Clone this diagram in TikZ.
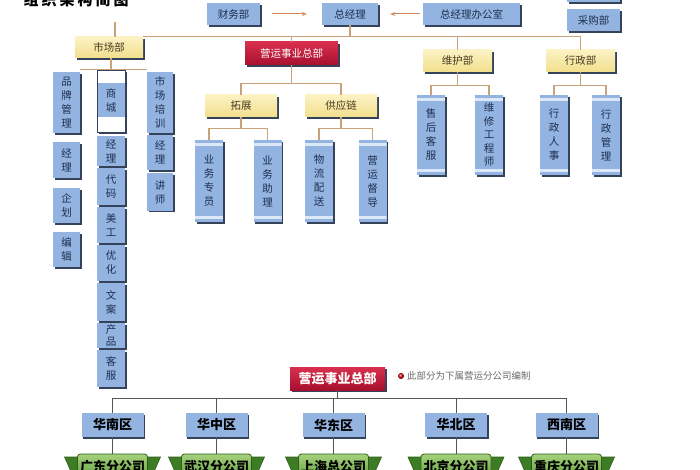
\documentclass[tikz,border=0pt]{standalone}
\usepackage{fontspec}
\setmainfont{Noto Sans CJK SC}
\usetikzlibrary{shadows,calc,arrows.meta}
\definecolor{bluef}{HTML}{93B4E0}
\definecolor{shade}{HTML}{34425A}
\definecolor{navy}{HTML}{1E2E4E}
\definecolor{bandc}{HTML}{DCE8F6}
\definecolor{yelt}{HTML}{FCF3C4}
\definecolor{yelb}{HTML}{F2DE8C}
\definecolor{yeltext}{HTML}{4A3A20}
\definecolor{redt}{HTML}{D8304E}
\definecolor{redb}{HTML}{A80F2E}
\definecolor{tanc}{HTML}{C9A27A}
\definecolor{arrc}{HTML}{D08A5A}
\definecolor{dgray}{HTML}{555555}
\definecolor{grt}{HTML}{A6D27C}
\definecolor{grb}{HTML}{5E9B3A}
\definecolor{grd}{HTML}{2E5E1C}
\definecolor{wingc}{HTML}{3E7B25}
\definecolor{notec}{HTML}{6A6A6A}
\tikzset{
  base/.style={inner sep=0pt, align=center, text=navy},
  shad/.style={general shadow={shadow xshift=1.6pt, shadow yshift=-1.6pt, fill=shade}},
  bbox/.style={base, fill=bluef, shad},
  vbox/.style={bbox, font=\fontsize{10.5}{14}\selectfont},
  hbox/.style={bbox, font=\fontsize{10.5}{12}\selectfont, minimum height=22pt},
  ybox/.style={base, top color=yelt, bottom color=yelb, shad, text=yeltext,
     font=\fontsize{10.5}{12}\selectfont, minimum height=22pt},
  rbox/.style={base, top color=redt, bottom color=redb, shad, text=white},
  scroll/.style={vbox, minimum width=28pt, path picture={
     \fill[bandc] ([yshift=-3pt]path picture bounding box.north west) rectangle ([yshift=-6pt]path picture bounding box.north east);
     \fill[bandc] ([yshift=3pt]path picture bounding box.south west) rectangle ([yshift=6pt]path picture bounding box.south east);}},
  conn/.style={draw=tanc, line width=1.1pt},
  dconn/.style={draw=dgray, line width=1pt},
  arr/.style={draw=arrc, line width=1pt, -{Stealth[length=5pt,width=4pt]}},
  region/.style={bbox, text=black, font=\fontsize{13}{15}\selectfont\bfseries, minimum width=62pt, minimum height=24pt},
  ribbon/.style={base, top color=grt, bottom color=grb, draw=grd, line width=0.8pt, rounded corners=3pt,
     text=black, font=\fontsize{13}{15}\selectfont\bfseries, minimum width=70pt, minimum height=26pt},
}
\newcommand\mywings[1]{%
  \fill[wingc, draw=grd, line width=0.6pt] (#1-48,457) -- (#1-33,457) -- (#1-33,475) -- (#1-40,475) -- cycle;
  \fill[wingc, draw=grd, line width=0.6pt] (#1+48,457) -- (#1+33,457) -- (#1+33,475) -- (#1+40,475) -- cycle;}
\begin{document}
\begin{tikzpicture}[x=1pt,y=-1pt]
\useasboundingbox (0,0) rectangle (700,470);
\clip (0,0) rectangle (700,470);
\fill[white] (0,0) rectangle (700,470);

% title
\node[font=\fontsize{15}{15}\selectfont\bfseries\addfontfeature{LetterSpace=20}, text=black, inner sep=0pt] (title) at (76,0) {组织架构简图};

% top row
\node[hbox, minimum width=53pt] (cw) at (233.5,14) {财务部};
\node[hbox, minimum width=56pt] (zjl) at (350,14) {总经理};
\node[hbox, minimum width=97pt] (zb) at (471.5,14) {总经理办公室};
\node[hbox, minimum width=53pt] (cgtop) at (593.5,-9) {};
\node[hbox, minimum width=53pt] (cg) at (593.5,20) {采购部};
\draw[arr, shorten <=12pt, shorten >=15pt] (cw.east) -- (zjl.west);
\draw[arr, shorten <=3pt, shorten >=12pt] (zb.west) -- (zjl.east);

% second row
\node[ybox, minimum width=68pt, minimum height=21pt] (scb) at (109,47.5) {市场部};
\node[rbox, minimum width=93pt, minimum height=23pt, font=\fontsize{10.5}{12}\selectfont] (yy1) at (291.5,53.5) {营运事业总部};
\node[ybox, minimum width=69pt] (whb) at (457.5,61) {维护部};
\node[ybox, minimum width=69pt] (xzb) at (580.5,61) {行政部};
\coordinate (sctop) at (115,22);
\draw[conn] (sctop) -- (sctop |- scb.north);
\draw[conn] (scb.north east) -| (xzb.north);
\draw[conn] (zjl.south) -- (zjl.south |- scb.north);
\draw[conn] (yy1.north) -- (yy1.north |- scb.north);
\draw[conn] (whb.north) -- (whb.north |- scb.north);

% market department columns
\node[vbox, minimum width=27pt, minimum height=61pt] (a1) at (66.5,102.5) {品\\牌\\管\\理};
\node[vbox, minimum width=27pt, minimum height=36pt] (a2) at (66.5,160) {经\\理};
\node[vbox, minimum width=27pt, minimum height=35pt] (a3) at (66.5,205.5) {企\\划};
\node[vbox, minimum width=27pt, minimum height=35pt] (a4) at (66.5,249.5) {编\\辑};

\node[vbox, fill=white, draw=shade, line width=0.8pt, minimum width=28pt, minimum height=62pt,
  path picture={\fill[bluef] ([yshift=-13pt]path picture bounding box.north west) rectangle ([yshift=15pt]path picture bounding box.south east);}]
  (b0) at (111,101) {商\\城};
\node[vbox, minimum width=28pt, minimum height=30pt] (b1) at (111,151) {经\\理};
\node[vbox, minimum width=28pt, minimum height=37pt] (b2) at (111,186.5) {代\\码};
\node[vbox, minimum width=28pt, minimum height=36pt] (b3) at (111,225) {美\\工};
\node[vbox, minimum width=28pt, minimum height=36pt] (b4) at (111,263) {优\\化};
\node[vbox, minimum width=28pt, minimum height=38pt] (b5) at (111,302) {文\\案};
\node[vbox, minimum width=28pt, minimum height=25pt, font=\fontsize{10.5}{12}\selectfont] (b6) at (111,335.5) {产\\品};
\node[vbox, minimum width=28pt, minimum height=37pt] (b7) at (111,368.5) {客\\服};

\node[vbox, minimum width=26pt, minimum height=61pt] (c0) at (160,102.5) {市\\场\\培\\训};
\node[vbox, minimum width=26pt, minimum height=35pt] (c1) at (160,152.5) {经\\理};
\node[vbox, minimum width=26pt, minimum height=37pt] (c2) at (160,192) {讲\\师};

\draw[conn] ([yshift=2pt]a1.north east) -- ([yshift=2pt]c0.north west);
\draw[conn] (b0.north) -- (b0.north |- scb.south);

% operations
\node[ybox, minimum width=72pt] (tz) at (241,106) {拓展};
\node[ybox, minimum width=72pt] (gyl) at (341,106) {供应链};
\draw[conn] (yy1.south) -- ++(0,18) coordinate (t0);
\draw[conn] (tz.north) |- (t0) -| (gyl.north);

\node[scroll, minimum height=82pt] (d1) at (209,181) {业\\务\\专\\员};
\node[scroll, minimum height=82pt] (d2) at (267.5,181) {业\\务\\助\\理};
\node[scroll, minimum height=82pt] (d3) at (319,181) {物\\流\\配\\送};
\node[scroll, minimum height=82pt] (d4) at (372.5,181) {营\\运\\督\\导};
\draw[conn] (tz.south) -- ++(0,11) coordinate (t1);
\draw[conn] (d1.north) |- (t1) -| (d2.north);
\draw[conn] (gyl.south) -- ++(0,11) coordinate (t2);
\draw[conn] (d3.north) |- (t2) -| (d4.north);

% maintenance / admin
\node[scroll, minimum height=80pt] (e1) at (431,135) {售\\后\\客\\服};
\node[scroll, minimum height=80pt, font=\fontsize{10.5}{13.5}\selectfont] (e2) at (489,135) {维\\修\\工\\程\\师};
\node[scroll, minimum height=80pt] (e3) at (554,135) {行\\政\\人\\事};
\node[scroll, minimum height=80pt] (e4) at (606,135) {行\\政\\管\\理};
\draw[conn] (whb.south) -- ++(0,13) coordinate (t3);
\draw[conn] (e1.north) |- (t3) -| (e2.north);
\draw[conn] (xzb.south) -- ++(0,13) coordinate (t4);
\draw[conn] (e3.north) |- (t4) -| (e4.north);

% lower part
\node[rbox, minimum width=95pt, minimum height=23pt, font=\fontsize{13}{15}\selectfont\bfseries] (yy2) at (337.5,378.5) {营运事业总部};
\node[circle, inner sep=0pt, minimum size=6pt, ball color=red!85!black] (dot) at (401,376) {};
\node[anchor=west, inner sep=0pt, text=notec, font=\fontsize{9.5}{11}\selectfont] (note) at (407,376) {此部分为下属营运分公司编制};

\node[region] (hn) at (112.5,425) {华南区};
\node[region] (hz) at (216.5,425) {华中区};
\node[region] (hd) at (333.5,425) {华东区};
\node[region] (hb) at (456,425) {华北区};
\node[region] (xn) at (566.5,425) {西南区};
\draw[dconn] (yy2.south) -- ++(0,8) coordinate (bus);
\draw[dconn] (hn.north) |- (bus) -| (xn.north);
\draw[dconn] (hz.north) -- (hz.north |- bus);
\draw[dconn] (hd.north) -- (hd.north |- bus);
\draw[dconn] (hb.north) -- (hb.north |- bus);

\mywings{112.5}
\mywings{216.5}
\mywings{333.5}
\mywings{456}
\mywings{566.5}
\node[ribbon] (gd) at (112.5,467) {广东分公司};
\node[ribbon] (wh) at (216.5,467) {武汉分公司};
\node[ribbon] (sh) at (333.5,467) {上海总公司};
\node[ribbon] (bj) at (456,467) {北京分公司};
\node[ribbon] (cq) at (566.5,467) {重庆分公司};
\draw[dconn] (hn.south) -- (gd.north);
\draw[dconn] (hz.south) -- (wh.north);
\draw[dconn] (hd.south) -- (sh.north);
\draw[dconn] (hb.south) -- (bj.north);
\draw[dconn] (xn.south) -- (cq.north);
\end{tikzpicture}
\end{document}
